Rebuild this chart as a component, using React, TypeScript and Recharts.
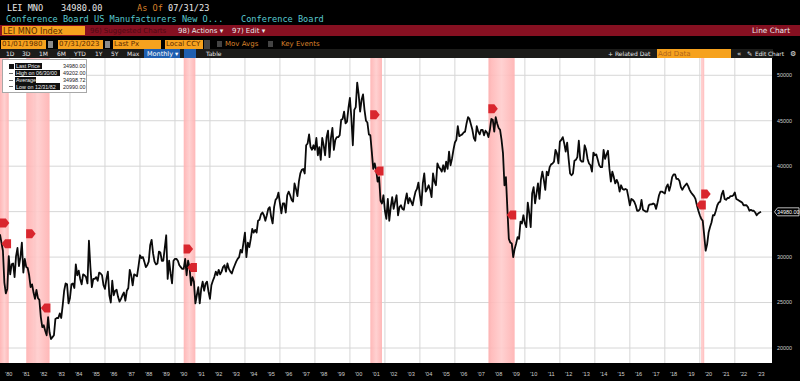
import { CartesianGrid, Line, LineChart, ReferenceArea, ReferenceDot, XAxis, YAxis } from "recharts";

// month index 0 = Jan 1980, one row per year, last row ends Jul 2023
const monthlyClose = [
  32500, 31600, 30700, 27200, 26000, 26500, 30100, 28100, 29200, 29300, 27800, 30100,
  31000, 29000, 30000, 31600, 28300, 29800, 28900, 28800, 28000, 26700, 27000, 26100,
  25400, 26400, 25500, 25300, 23400, 22300, 22500, 21900, 21400, 23400, 21700, 20990,
  21200, 21400, 23200, 23300, 23300, 23800, 23300, 24700, 26300, 27100, 27000, 24900,
  25500, 27000, 27100, 26600, 29200, 28000, 28500, 27600, 27000, 28100, 28000, 27800,
  27100, 31800, 28900, 26700, 27600, 27600, 27800, 27400, 28300, 28200, 28000, 26900,
  26500, 27600, 28400, 25800, 25000, 27400, 25800, 26300, 26400, 25600, 25100, 25400,
  25800, 26100, 25200, 26300, 26600, 28600, 28000, 26900, 28100, 28000, 27900, 29000,
  30200, 29900, 30000, 29500, 28900, 29100, 29500, 31300, 31900, 30400, 29500, 29200,
  29300, 30600, 30500, 29600, 29600, 31000, 32400, 27600, 29600, 28200, 27100, 29600,
  29800, 29800, 29600, 29100, 28900, 28700, 28700, 29800, 28000, 29600, 28900, 26900,
  27800, 27300, 24900, 25800, 26700, 24900, 26500, 27300, 26300, 27100, 27300, 26200,
  25400, 26900, 27400, 27800, 28400, 28000, 28600, 28100, 28400, 28900, 29100, 28400,
  29300, 28700, 28400, 28200, 28700, 29100, 29500, 29800, 30000, 30800, 30500, 31600,
  32700, 30000, 31600, 31100, 32000, 33100, 32700, 33000, 32700, 34000, 34100, 34700,
  34900, 34600, 34000, 34600, 35300, 35500, 34400, 33700, 35500, 36300, 36500, 37100,
  35900, 34800, 35900, 35900, 34900, 36800, 37200, 36800, 36300, 36100, 38100, 37500,
  36700, 38300, 39200, 39600, 39700, 39200, 42300, 42500, 43500, 42100, 41800, 42300,
  41800, 43100, 41200, 42100, 40700, 43100, 42300, 41200, 43200, 43900, 41000, 43100,
  44200, 41800, 42900, 43200, 43200, 43400, 45100, 45200, 46000, 44700, 44900, 46400,
  47500, 45300, 42300, 46200, 46500, 49202, 47900, 46000, 47300, 47900, 46200, 45000,
  44800, 43500, 43400, 41600, 39700, 40300, 39600, 38300, 38800, 36200, 35900, 36800,
  35100, 34200, 36400, 34000, 35500, 36600, 35300, 36100, 36800, 34600, 35500, 35700,
  35300, 35200, 36200, 37000, 35900, 36500, 36100, 35700, 36500, 37200, 37500, 38200,
  36800, 35700, 38100, 39200, 37200, 37500, 37900, 37400, 36600, 39200, 38300, 37900,
  40300, 39900, 39700, 39400, 40100, 39400, 40500, 39700, 41600, 40100, 40800, 41800,
  42600, 42900, 44400, 43300, 43400, 43500, 43700, 43800, 44700, 45400, 45200, 44600,
  44000, 43100, 42800, 44400, 43800, 43500, 44000, 44000, 43400, 43900, 43700, 43200,
  44000, 45200, 45100, 43800, 45400, 44700, 44200, 44000, 42900, 41400, 37900, 38800,
  35300, 32000, 31600, 31500, 30000, 30900, 31500, 32200, 32000, 33900, 33700, 34600,
  33700, 33300, 36000, 34800, 33300, 37000, 37700, 35900, 37000, 38100, 36400, 38500,
  39400, 38500, 37400, 39400, 39000, 39900, 40200, 40300, 40500, 41800, 41400, 40300,
  42700, 42900, 43200, 42500, 41600, 42600, 40800, 39200, 39000, 39200, 40600, 40700,
  41000, 42800, 40700, 40500, 40500, 42300, 41800, 40800, 40300, 40100, 39400, 41500,
  41200, 41300, 40700, 40100, 39900, 39900, 41800, 40800, 41300, 41700, 39700, 38300,
  39400, 38800, 38100, 38500, 38100, 37200, 37900, 37500, 37400, 37500, 37400, 36600,
  35700, 36400, 36300, 36100, 35700, 35100, 35100, 35300, 36300, 35200, 35100, 35000,
  35000, 35700, 35800, 35800, 35900, 35800, 35300, 36000, 36800, 37200, 37200, 37100,
  37000, 37700, 38000, 37300, 37900, 38800, 39100, 39100, 38600, 38600, 38400, 37700,
  37400, 37700, 37900, 38100, 37800, 37400, 37100, 36900, 36700, 36400, 35700, 35100,
  34600, 34200, 34000, 32400, 30700, 31400, 32700, 33300, 33800, 34600, 34600, 35100,
  35700, 36000, 36100, 36900, 37300, 36400, 36300, 36500, 36500, 36700, 36700, 36800,
  37100, 36400, 36300, 36200, 36100, 36000, 35700, 35700, 35700, 35500, 35100, 35200,
  35100, 35100, 34900, 34600, 34800, 34900, 34980,
];

const yearLabels = [
  "'80", "'81", "'82", "'83", "'84", "'85", "'86", "'87", "'88", "'89", "'90",
  "'91", "'92", "'93", "'94", "'95", "'96", "'97", "'98", "'99", "'00", "'01",
  "'02", "'03", "'04", "'05", "'06", "'07", "'08", "'09", "'10", "'11", "'12",
  "'13", "'14", "'15", "'16", "'17", "'18", "'19", "'20", "'21", "'22", "'23",
];
const gridPrices = [20000, 25000, 30000, 35000, 40000, 45000, 50000];
// 35000 sits under the last price tag, so it has no label of its own
const labelledPrices = [20000, 25000, 30000, 40000, 45000, 50000];
const recessionStarts = [0, 18, 126, 254, 335, 481];
const recessionEnds = [6, 34, 134, 262, 353, 483];
const markerMonths = [3, 4.5, 21, 31.5, 129, 132, 257, 260, 338, 351, 481, 484];
const markerValues = [33750, 31470, 32570, 24400, 30890, 28850, 45660, 39470, 46320, 34630, 35730, 36940];
const markerPointsRight = [true, false, true, false, true, false, true, false, true, false, false, true];

const legendLabels = ["Last Price", "High on 06/30/00", "Average", "Low on 12/31/82"];
const legendValues = ["34980.00", "49202.00", "34998.72", "20990.00"];

const rangeButtons = ["1D", "3D", "1M", "6M", "YTD", "1Y", "5Y", "Max"];
const rangeButtonLefts = [6, 22, 39, 57, 74, 95, 111, 127];

const data = monthlyClose.map((close, month) => ({ month, close }));
const yearTicks = yearLabels.map((_, i) => i * 12 + 6);
const gridMonths = yearLabels.map((_, i) => i * 12).filter((m) => m % 24 === 0 && m > 0);
const lastClose = monthlyClose[monthlyClose.length - 1];

const ORANGE = "#f6a21e";
const TEAL = "#58c8cf";
const MONO = "'DejaVu Sans Mono', monospace";
const SANS = "'DejaVu Sans', sans-serif";
const SMALL = "'Liberation Sans', sans-serif";

function Txt({ x, y, c = "#e8e8e8", s = 8, f = SANS, children }: any) {
  return (
    <span style={{ position: "absolute", left: x, top: y, color: c, fontSize: s, fontFamily: f, lineHeight: "10px", whiteSpace: "nowrap" }}>
      {children}
    </span>
  );
}

function Box({ x, y, w, h, c }: any) {
  return <div style={{ position: "absolute", left: x, top: y, width: w, height: h, background: c }} />;
}

function Marker({ cx, cy, right }: any) {
  const d = right
    ? `M${cx - 4.5},${cy - 4.5} h6 l3.5,4.5 l-3.5,4.5 h-6 Z`
    : `M${cx + 4.5},${cy - 4.5} h-6 l-3.5,4.5 l3.5,4.5 h6 Z`;
  return <path d={d} fill="#d9262e" />;
}

function LastPriceTag({ cy }: any) {
  return (
    <g>
      <path d={`M774.5,${cy} l3,-4 h21.5 v8 h-21.5 Z`} fill="#000" stroke="#e8e8e8" strokeWidth={0.8} />
      <text x={788.3} y={cy + 2} fill="#fff" fontSize={5.4} fontFamily={SMALL} textAnchor="middle">
        {lastClose.toFixed(2)}
      </text>
    </g>
  );
}

export default function App() {
  return (
    <div style={{ position: "absolute", left: 0, top: 0, width: 800, height: 381, background: "#000", overflow: "hidden" }}>
      <LineChart width={800} height={381} data={data} margin={{ top: 58, right: 0, bottom: 0, left: 0 }}>
        <defs>
          <linearGradient id="recessionBand" x1="0" y1="0" x2="1" y2="0">
            <stop offset="0%" stopColor="#ffb0b0" />
            <stop offset="50%" stopColor="#ffcccc" />
            <stop offset="100%" stopColor="#ffb0b0" />
          </linearGradient>
        </defs>
        <CartesianGrid
          fill="#fff"
          stroke="#d6d6d6"
          strokeWidth={1}
          verticalValues={gridMonths}
          horizontalValues={gridPrices}
        />
        <XAxis
          dataKey="month"
          type="number"
          domain={[0, 529.5]}
          allowDataOverflow
          ticks={yearTicks}
          interval={0}
          height={18}
          tickLine={false}
          axisLine={false}
          tickSize={0}
          tickMargin={9}
          tick={{ fill: "#cfcfcf", fontSize: 5.6, fontFamily: SMALL }}
          tickFormatter={(m: number) => yearLabels[(m - 6) / 12]}
        />
        <YAxis
          orientation="right"
          type="number"
          domain={[18350, 51900]}
          allowDataOverflow
          ticks={labelledPrices}
          interval={0}
          width={28}
          tickLine={false}
          axisLine={false}
          tickSize={0}
          tickMargin={5}
          tick={{ fill: "#cfcfcf", fontSize: 5.4, fontFamily: SMALL }}
        />
        {recessionStarts.map((start, i) => (
          <ReferenceArea key={start} x1={start} x2={recessionEnds[i]} fill="url(#recessionBand)" fillOpacity={0.9} stroke="none" ifOverflow="hidden" />
        ))}
        <Line dataKey="close" stroke="#0a0a0a" strokeWidth={1.8} dot={false} isAnimationActive={false} strokeLinejoin="round" />
        {markerMonths.map((month, i) => (
          <ReferenceDot
            key={month}
            x={month}
            y={markerValues[i]}
            r={4}
            ifOverflow="visible"
            shape={(p: any) => <Marker cx={p.cx} cy={p.cy} right={markerPointsRight[i]} />}
          />
        ))}
        <ReferenceDot x={529.5} y={lastClose} ifOverflow="visible" shape={(p: any) => <LastPriceTag cy={p.cy} />} />
      </LineChart>

      {/* terminal header rows */}
      <Txt x={7} y={3} s={8.6} f={MONO}>LEI MNO</Txt>
      <Txt x={61} y={3} s={8.6} f={MONO}>34980.00</Txt>
      <Txt x={137} y={3} s={8.6} f={MONO} c="#d9822b">As Of</Txt>
      <Txt x={168} y={3} s={8.6} f={MONO}>07/31/23</Txt>
      <Txt x={6} y={14} s={8.6} f={MONO} c={TEAL}>Conference Board US Manufacturers New O...</Txt>
      <Txt x={241} y={14} s={8.6} f={MONO} c={TEAL}>Conference Board</Txt>

      <Box x={0} y={25} w={800} h={11} c="#861021" />
      <Box x={2} y={26} w={83} h={9} c={ORANGE} />
      <Txt x={3} y={25.5} s={8.2} c="#5a2b00">LEI MNO Index</Txt>
      <Txt x={90} y={25.5} s={7} c="#4e0a14">96) Suggested Charts</Txt>
      <Txt x={178} y={25.5} s={7}>98) Actions ▾</Txt>
      <Txt x={232} y={25.5} s={7}>97) Edit ▾</Txt>
      <Txt x={752} y={25.5} s={7.4}>Line Chart</Txt>

      <Box x={1} y={39.5} w={45} h={9} c={ORANGE} />
      <Txt x={2} y={39} s={7} c="#5a2b00">01/01/1980</Txt>
      <Box x={47.5} y={40.5} w={5} h={7} c="#8a8a8a" />
      <Box x={58} y={39.5} w={45} h={9} c={ORANGE} />
      <Txt x={59} y={39} s={7} c="#5a2b00">07/31/2023</Txt>
      <Box x={104.5} y={40.5} w={5} h={7} c="#8a8a8a" />
      <Box x={113} y={39.5} w={48} h={9} c={ORANGE} />
      <Txt x={114} y={39} s={7} c="#5a2b00">Last Px</Txt>
      <Box x={165} y={39.5} w={38} h={9} c={ORANGE} />
      <Txt x={166} y={39} s={7} c="#5a2b00">Local CCY</Txt>
      <Box x={204} y={39.5} w={6} h={9} c="#444" />
      <Box x={217} y={41} w={5} h={6} c="#444" />
      <Txt x={225} y={39} s={7} c="#d9822b">Mov Avgs</Txt>
      <Box x={268} y={41} w={5} h={6} c="#444" />
      <Txt x={281} y={39} s={7} c="#d9822b">Key Events</Txt>

      <Box x={0} y={49} w={773} h={9} c="#1c1c1a" />
      {rangeButtons.map((label, i) => (
        <Txt key={label} x={rangeButtonLefts[i]} y={48.5} s={6}>{label}</Txt>
      ))}
      <Box x={144} y={49} w={36} h={9} c="#1f5fb0" />
      <Txt x={147} y={48.5} s={6.5} c="#fff">Monthly ▾</Txt>
      <Box x={184} y={49} w={12} h={9} c="#1f5fb0" />
      <Txt x={206} y={48.5} s={6}>Table</Txt>
      <Txt x={608} y={48.5} s={6}>+ Related Dat</Txt>
      <Box x={657} y={49} w={74} h={9} c={ORANGE} />
      <Txt x={658} y={48.5} s={7} c="#b0641a">Add Data</Txt>
      <Txt x={737} y={48.5} s={7}>«</Txt>
      <Txt x={747} y={48.5} s={6.5}>✎</Txt>
      <Txt x={755} y={48.5} s={5.8}>Edit Chart</Txt>
      <Txt x={790} y={48.5} s={7}>⚙</Txt>

      {/* stats legend */}
      <div style={{ position: "absolute", left: 2, top: 59, width: 85, height: 34, background: "#fff", border: "1px solid #a8a8a8", boxSizing: "border-box" }} />
      <Box x={9} y={63.5} w={5} h={5} c="#111" />
      {legendLabels.map((label, i) => (
        <span key={label}>
          <Box x={15} y={63 + i * 6.8} w={i === 2 ? 21 : i === 0 ? 27 : 45} h={6.4} c="#111" />
          <Txt x={16} y={61.2 + i * 6.8} s={5.4} f={SMALL} c="#f0f0f0">{label}</Txt>
          <Txt x={63} y={61.2 + i * 6.8} s={5.4} f={SMALL} c="#222">{legendValues[i]}</Txt>
          {i > 0 && <Box x={9} y={66 + i * 6.8} w={4} h={1} c="#666" />}
        </span>
      ))}
    </div>
  );
}
